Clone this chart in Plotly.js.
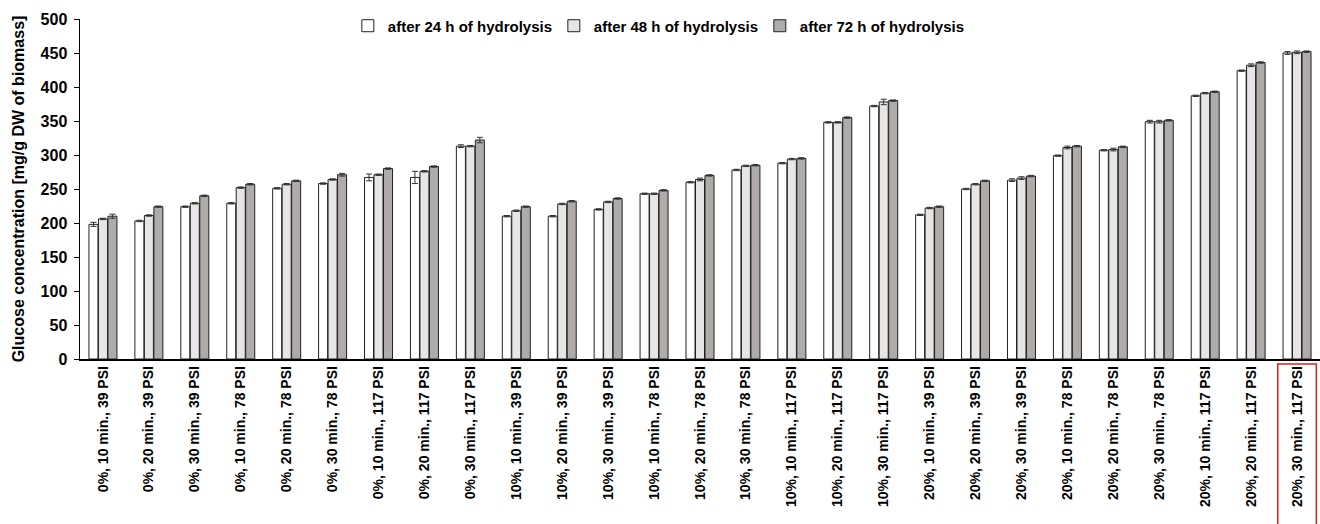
<!DOCTYPE html>
<html>
<head>
<meta charset="utf-8">
<script src="https://cdn.plot.ly/plotly-3.0.1.min.js"></script>
<style>html,body{margin:0;padding:0;background:#fff;}#chart{width:1320px;height:524px;}</style>
</head>
<body>
<div id="chart"></div>
<script>
const categories = [
  "0%, 10 min., 39 PSI","0%, 20 min., 39 PSI","0%, 30 min., 39 PSI",
  "0%, 10 min., 78 PSI","0%, 20 min., 78 PSI","0%, 30 min., 78 PSI",
  "0%, 10 min., 117 PSI","0%, 20 min., 117 PSI","0%, 30 min., 117 PSI",
  "10%, 10 min., 39 PSI","10%, 20 min., 39 PSI","10%, 30 min., 39 PSI",
  "10%, 10 min., 78 PSI","10%, 20 min., 78 PSI","10%, 30 min., 78 PSI",
  "10%, 10 min., 117 PSI","10%, 20 min., 117 PSI","10%, 30 min., 117 PSI",
  "20%, 10 min., 39 PSI","20%, 20 min., 39 PSI","20%, 30 min., 39 PSI",
  "20%, 10 min., 78 PSI","20%, 20 min., 78 PSI","20%, 30 min., 78 PSI",
  "20%, 10 min., 117 PSI","20%, 20 min., 117 PSI","20%, 30 min., 117 PSI"
];
const seriesNames = ["after 24 h of hydrolysis","after 48 h of hydrolysis","after 72 h of hydrolysis"];
const h24 = [198,203,224,229,251,258,267,267,313,210,210,220,243,260,278,288,348,372,212,250,263,299,307,349,387,424,450];
const h48 = [206,211,229,252,257,264,271,276,313,218,228,231,243,264,284,294,348,378,222,257,266,311,308,349,391,432,451];
const h72 = [210,224,240,257,262,271,280,283,322,224,232,236,248,270,285,295,355,380,224,262,269,313,312,351,393,436,452];
const e24 = [3,1,1,1,1,1,5,9,2,1,1,1,1,1,1,1,1,1,1,1,2,1,1,2,1,1,2];
const e48 = [1,1,1,1,1,1,1,1,1,1,1,1,1,2,1,1,1,4,1,1,2,2,2,2,1,2,2];
const e72 = [3,1,1,1,1,2,1,1,4,1,1,1,1,1,1,1,1,1,1,1,1,1,1,1,1,1,1];
const highlighted = "20%, 30 min., 117 PSI";

const fills = ["#ffffff","#e6e6e6","#aeaba9"];
const vals = [h24,h48,h72];
const errs = [e24,e48,e72];

const traces = vals.map((v,i)=>({
  type:"bar", name:seriesNames[i], x:categories, y:v,
  marker:{color:fills[i], line:{color:"#222", width:1}},
  error_y:{type:"data", array:errs[i], visible:true, color:"#333", thickness:1, width:3}
}));

const hi = categories.indexOf(highlighted);

const layout = {
  width:1320, height:524,
  margin:{l:80, r:0, t:19, b:165},
  paper_bgcolor:"#fff", plot_bgcolor:"#fff",
  font:{family:"Arial, Liberation Sans, sans-serif", size:15, color:"#000"},
  barmode:"group", bargap:0.38, bargroupgap:0.05,
  showlegend:true,
  legend:{orientation:"h", x:0.216, xanchor:"left", y:1.028, yanchor:"top",
          font:{size:15, color:"#000", weight:"bold"}, bgcolor:"rgba(0,0,0,0)",
          itemwidth:30, entrywidth:161, traceorder:"normal"},
  xaxis:{type:"category", tickangle:-90, showline:true, linecolor:"#000", linewidth:1.5,
         ticks:"", showgrid:false, automargin:false,
         tickfont:{size:14, weight:"bold", color:"#000"}, range:[-0.5, categories.length-0.5]},
  yaxis:{range:[0,500], dtick:50, showline:true, linecolor:"#000", linewidth:1.5,
         ticks:"outside", ticklen:5, tickcolor:"#000", showgrid:false, zeroline:false, automargin:false,
         ticklabelstandoff:3,
         tickfont:{size:16, weight:"bold", color:"#000"},
         title:{text:"Glucose concentration [mg/g DW of biomass]", font:{size:16, weight:"bold", color:"#000"}, standoff:12}},
  shapes:[{type:"rect", xref:"x", yref:"paper", x0:hi-0.42, x1:hi+0.42, y0:-0.015, y1:-0.49,
           line:{color:"#e0201b", width:1.5}, fillcolor:"rgba(0,0,0,0)"}]
};

Plotly.newPlot("chart", traces, layout, {displayModeBar:false, staticPlot:true});
</script>
</body>
</html>
